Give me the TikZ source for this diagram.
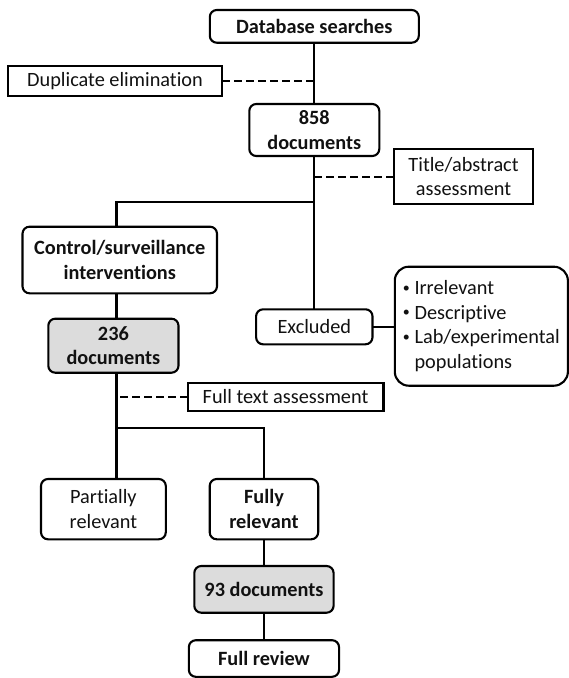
\documentclass[tikz,border=0pt]{standalone}
\usepackage{fontspec}
\setmainfont{Carlito}[Ligatures=NoCommon]
\definecolor{boxgray}{HTML}{DCDCDC}
\definecolor{ink}{HTML}{111111}
\newcommand{\mybul}{\raisebox{0.12em}{\fontsize{14}{14}\selectfont\textbullet}\ }
\begin{document}
\begin{tikzpicture}[x=1pt,y=-1pt,
  base/.style={draw=black, line width=2.1pt, inner sep=0pt, outer sep=0pt, align=center, text=ink,
    font=\fontsize{20.3}{24.6}\selectfont},
  rbox/.style={base, rounded corners=7pt},
  sbox/.style={base},
  gbox/.style={rbox, fill=boxgray},
  conn/.style={draw=black, line width=2.1pt},
  dconn/.style={draw=black, line width=2.1pt, dash pattern=on 8pt off 4pt}]
\useasboundingbox (0,0) rectangle (569,678);

% nodes
\node[rbox, minimum width=209, minimum height=32.7] (db) at (314.3,26.35) {\bfseries Database searches};
\node[sbox, minimum width=214, minimum height=30] (dup) at (115,80.7) {Duplicate elimination};
\node[rbox, minimum width=130, minimum height=52] (n858) at (314.3,130) {\bfseries 858\\\bfseries documents};
\node[sbox, minimum width=139.7, minimum height=54.7] (title) at (463.55,176.65) {Title/abstract\\assessment};
\node[rbox, minimum width=194.5, minimum height=66.6] (ctrl) at (119.75,260) {\bfseries Control/surveillance\\\bfseries interventions};
\node[gbox, minimum width=130.2, minimum height=54] (n236) at (113.4,345.7) {\bfseries 236\\\bfseries documents};
\node[rbox, minimum width=116.4, minimum height=35] (excl) at (314.3,326.8) {Excluded};
\node[base, rounded corners=14pt, minimum width=173.1, minimum height=119, align=left] (list) at (481.35,326.2)
  {\mybul Irrelevant\\\mybul Descriptive\\\mybul Lab/experimental\\\phantom{\mybul}populations};
\node[sbox, minimum width=195.9, minimum height=27.7] (ftxt) at (285.55,396.85) {Full text assessment};
\node[rbox, minimum width=124.8, minimum height=60.3] (part) at (103.4,509.15) {Partially\\relevant};
\node[rbox, minimum width=108.5, minimum height=60.3] (fully) at (263.95,509.15) {\bfseries Fully\\\bfseries relevant};
\node[gbox, minimum width=139.3, minimum height=46.7] (n93) at (263.95,589.35) {\bfseries 93 documents};
\node[rbox, minimum width=150.2, minimum height=36.6] (frev) at (263.95,658.5) {\bfseries Full review};

% branch points
\coordinate (b1) at (314.3,202);
\coordinate (l1) at (116.5,202);
\coordinate (b2) at (116.5,427.7);

% solid connectors
\draw[conn] (db) -- (n858);
\draw[conn] (n858) -- (excl);
\draw[conn] (b1) -- (l1) -- (l1 |- ctrl.north);
\draw[conn] (ctrl.south -| l1) -- (n236.north -| l1);
\draw[conn] (n236.south -| l1) -- (part.north -| l1);
\draw[conn] (b2) -| (fully.north);
\draw[conn] (fully) -- (n93);
\draw[conn] (n93) -- (frev);
\draw[conn] (excl.east) -- (excl.east -| list.west);

% dashed connectors
\draw[dconn] (dup.east) -- (dup.east -| b1);
\draw[dconn] (title.west) -- (title.west -| b1);
\draw[dconn] (ftxt.west) -- (ftxt.west -| l1);
\end{tikzpicture}
\end{document}
